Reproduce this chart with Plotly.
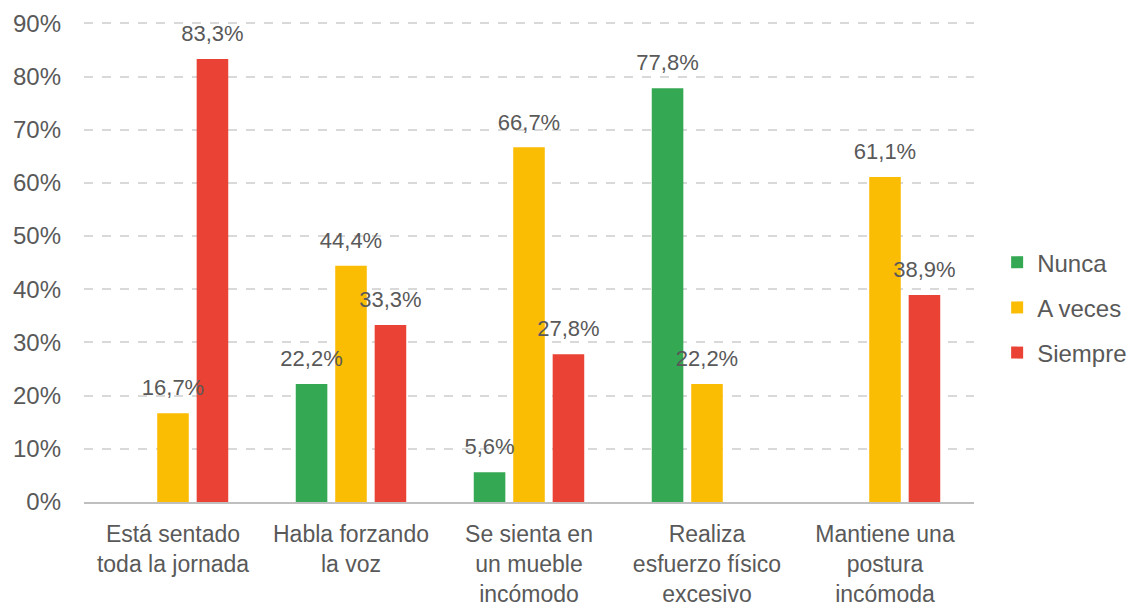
import plotly.graph_objects as go

categories = [
    "Está sentado<br>toda la jornada",
    "Habla forzando<br>la voz",
    "Se sienta en<br>un mueble<br>incómodo",
    "Realiza<br>esfuerzo físico<br>excesivo",
    "Mantiene una<br>postura<br>incómoda",
]
series_names = ["Nunca", "A veces", "Siempre"]
nunca = [None, 22.2, 5.6, 77.8, None]
a_veces = [16.7, 44.4, 66.7, 22.2, 61.1]
siempre = [83.3, 33.3, 27.8, None, 38.9]
colors = ["#34A853", "#FBBC04", "#EA4335"]
y_ticks = [0, 10, 20, 30, 40, 50, 60, 70, 80, 90]
y_tick_labels = ["0%", "10%", "20%", "30%", "40%", "50%", "60%", "70%", "80%", "90%"]

font_family = "Liberation Sans, Arial, sans-serif"
grey = "#595959"
BARGAP = 0.335

fig = go.Figure()
for name, vals, col in zip(series_names, [nunca, a_veces, siempre], colors):
    fig.add_trace(go.Bar(
        x=categories, y=vals, name=name, marker_color=col,
        marker_line_width=0, legendgroup=name,
    ))
# value labels as text-only scatter traces grouped like the bars
for name, vals in zip(series_names, [nunca, a_veces, siempre]):
    fig.add_trace(go.Scatter(
        x=categories, y=vals, mode="text+markers",
        marker=dict(size=18, opacity=0),
        text=[None if v is None else f"{v:.1f}%".replace(".", ",") for v in vals],
        textposition="top center",
        textfont=dict(size=22, color=grey, family=font_family),
        showlegend=False, hoverinfo="skip", cliponaxis=False,
    ))

fig.update_layout(
    width=1137, height=606,
    margin=dict(l=76, r=171, t=14, b=112, autoexpand=False),
    paper_bgcolor="white", plot_bgcolor="white",
    separators=",.",
    barmode="group", bargap=BARGAP, bargroupgap=0.2,
    scattermode="group", scattergap=BARGAP,
    font=dict(family=font_family, color=grey, size=23),
    legend=dict(x=1.026, y=0.405, yanchor="middle", xanchor="left",
                font=dict(size=24, color=grey), tracegroupgap=11,
                itemwidth=30),
    showlegend=True,
)
fig.update_yaxes(range=[0, 90.25], tickvals=y_ticks, ticktext=y_tick_labels,
                 showgrid=True, gridcolor="#d9d9d9", griddash="dash", gridwidth=1.5,
                 zeroline=False, showline=False, ticks="", automargin=False,
                 tickfont=dict(size=24, color=grey), ticklabelstandoff=22)
fig.update_xaxes(showline=True, linecolor="#bfbfbf", linewidth=1.5,
                 ticks="", automargin=False, ticklabelstandoff=11,
                 tickfont=dict(size=23, color=grey))

fig.write_html("out.html")
